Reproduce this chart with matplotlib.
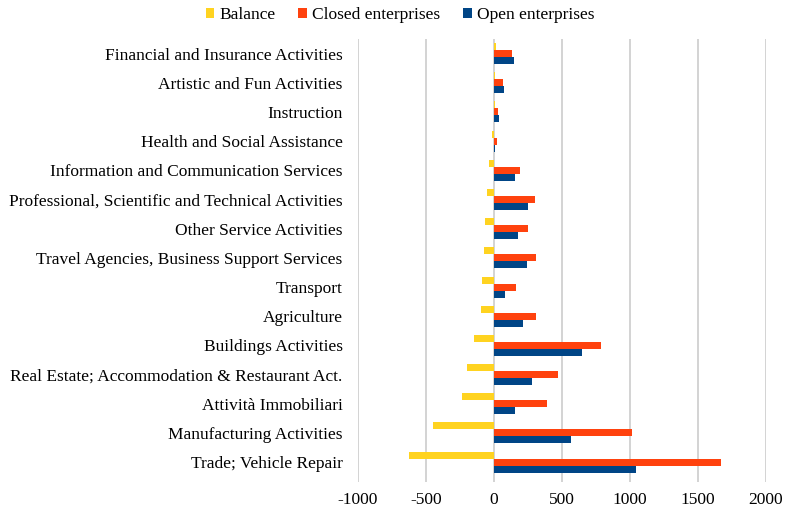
import matplotlib
matplotlib.use("Agg")
import matplotlib.pyplot as plt
import numpy as np

plt.rcParams['font.family'] = ['Liberation Serif', 'DejaVu Serif']

categories = [
    "Trade; Vehicle Repair",
    "Manufacturing Activities",
    "Attività Immobiliari",
    "Real Estate; Accommodation & Restaurant Act.",
    "Buildings Activities",
    "Agriculture",
    "Transport",
    "Travel Agencies, Business Support Services",
    "Other Service Activities",
    "Professional, Scientific and Technical Activities",
    "Information and Communication Services",
    "Health and Social Assistance",
    "Instruction",
    "Artistic and Fun Activities",
    "Financial and Insurance Activities",
]
open_ent = [1047, 569, 152, 277, 645, 216, 79, 240, 179, 248, 157, 8, 36, 76, 150]
closed_ent = [1672, 1017, 390, 473, 790, 309, 165, 312, 248, 301, 194, 25, 32, 69, 135]
balance = [-625, -448, -238, -196, -145, -93, -86, -72, -69, -53, -37, -17, 4, 7, 15]

c_bal = "#FFD320"
c_closed = "#FF420E"
c_open = "#004586"

fig = plt.figure(figsize=(7.86, 5.09), dpi=100)
ax = fig.add_axes([358 / 786, 1 - 482 / 509, 408 / 786, 443 / 509])

y = np.arange(len(categories))
h = 0.24
ax.barh(y + h, balance, height=h, color=c_bal, label="Balance", zorder=3)
ax.barh(y, closed_ent, height=h, color=c_closed, label="Closed enterprises", zorder=3)
ax.barh(y - h, open_ent, height=h, color=c_open, label="Open enterprises", zorder=3)

ax.set_xlim(-1000, 2000)
ax.set_ylim(-0.68, len(categories) - 0.5)
ax.set_xticks(np.arange(-1000, 2001, 500))
ax.set_xticklabels([str(v) for v in range(-1000, 2001, 500)], fontsize=12.5)
ax.set_yticks(y)
ax.set_yticklabels(categories, fontsize=12.5)
ax.tick_params(axis='y', length=0, pad=11)
ax.tick_params(axis='x', length=0, pad=7)
ax.grid(axis='x', color="#D0D0D0", linewidth=1.3, zorder=0)
for s in ax.spines.values():
    s.set_visible(False)

ax.legend(loc='center', bbox_to_anchor=(400 / 786, 1 - 15 / 509),
          bbox_transform=fig.transFigure,
          ncol=3, frameon=False, fontsize=12.5, handlelength=0.5, handleheight=0.5,
          handletextpad=0.3, columnspacing=1.3, borderpad=0)

fig.savefig("out.png", dpi=100)
